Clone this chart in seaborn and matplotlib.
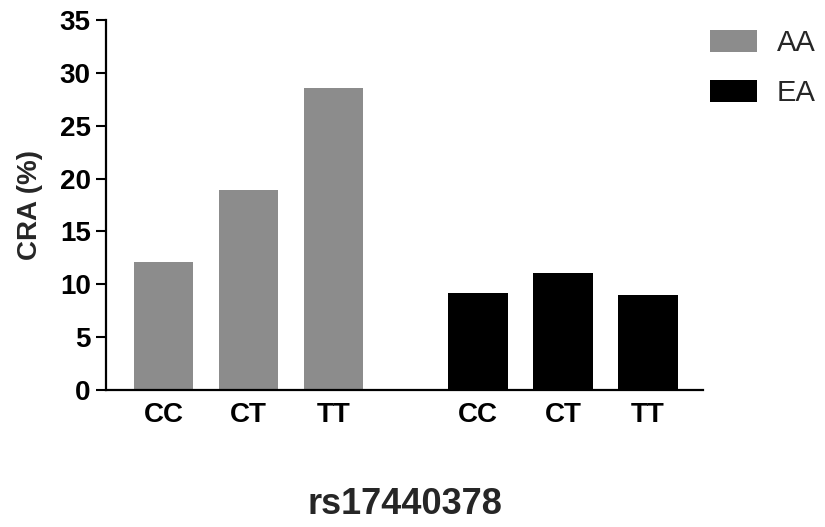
import pandas as pd
import matplotlib
matplotlib.use("Agg")
import matplotlib.pyplot as plt
import seaborn as sns

# Data
genotypes = ["CC", "CT", "TT", "CC", "CT", "TT"]
groups = ["AA", "AA", "AA", "EA", "EA", "EA"]
cra_pct = [12.1, 18.9, 28.6, 9.2, 11.1, 9.0]
# x positions of the bars (second group shifted to leave a gap)
positions = [0, 1, 2, 3.7, 4.7, 5.7]

sns.set_theme(style="ticks")
plt.rcParams.update({
    'figure.facecolor': 'white',
    'axes.facecolor': 'white',
    'font.family': ['Liberation Sans', 'DejaVu Sans'],
})

df = pd.DataFrame({"pos": positions, "genotype": genotypes,
                   "group": groups, "cra": cra_pct})

fig = plt.figure(figsize=(8.25, 5.27), dpi=100)
ax = fig.add_axes([0.1285, 0.26, 0.7236, 0.702])

sns.barplot(data=df, x="pos", y="cra", hue="group", native_scale=True,
            dodge=False, width=0.7, palette={"AA": "#8c8c8c", "EA": "#000000"},
            linewidth=0, ax=ax)

ax.set_xlim(-0.68, 6.35)
ax.set_ylim(0, 35)
ax.set_yticks(range(0, 36, 5))
ax.set_xticks(positions)
ax.set_xticklabels(genotypes)

for lbl in ax.get_xticklabels() + ax.get_yticklabels():
    lbl.set_fontweight('bold')
    lbl.set_fontsize(20)

ax.tick_params(axis='y', length=7, width=1.5, pad=4, colors='black')
ax.tick_params(axis='x', length=0, pad=9, colors='black')

sns.despine(ax=ax)
for side in ['left', 'bottom']:
    ax.spines[side].set_linewidth(1.6)
    ax.spines[side].set_color('black')

ax.set_ylabel("CRA (%)", fontsize=20, fontweight='bold')
ax.set_xlabel("rs17440378", fontsize=26, fontweight='bold')
ax.yaxis.set_label_coords(-0.105, 0.5)
ax.xaxis.set_label_coords(0.5, -0.262)

handles, labels = ax.get_legend_handles_labels()
ax.legend(handles, labels, loc='upper left', bbox_to_anchor=(0.8606, 0.945),
          bbox_transform=fig.transFigure, frameon=False, fontsize=21,
          borderpad=0, borderaxespad=0, handlelength=1.6, handleheight=0.8,
          handletextpad=0.7, labelspacing=0.75)

fig.savefig("out.png", dpi=100)
plt.close(fig)
